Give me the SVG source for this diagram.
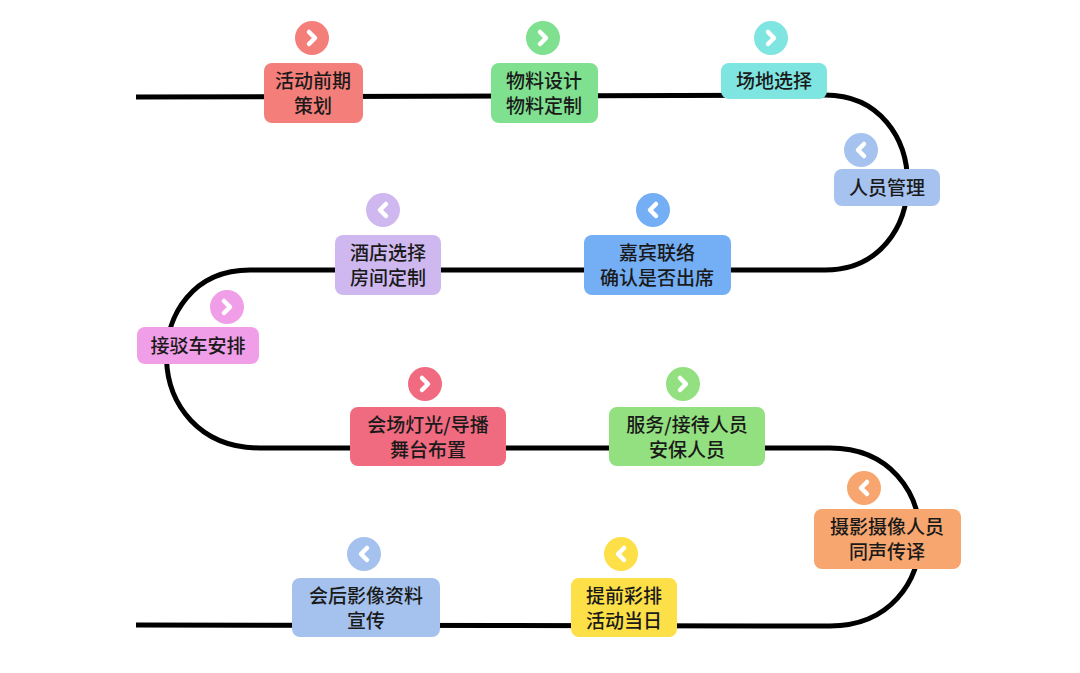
<svg xmlns="http://www.w3.org/2000/svg" width="1080" height="673" viewBox="0 0 1080 673">
<defs>
<style>
.t{font-family:"Noto Sans CJK SC","Noto Sans",sans-serif;font-size:19px;font-weight:500;fill:#1a1a1a;text-anchor:middle}
.ch{fill:none;stroke:#fff;stroke-width:4.5;stroke-linecap:round;stroke-linejoin:round}
</style>
<path id="r" class="ch" d="M-3,-6 L3,0 L-3,6"/>
<path id="l" class="ch" d="M3,-6 L-3,0 L3,6"/>
</defs>
<rect width="1080" height="673" fill="#fff"/>
<g id="connectors">
<path d="M136,97 L825,95 C935,95 935,270 825,270 L250,270 C137,270 137,448 260,448 L830,448 C950,448 950,626 830,626 L136,625" fill="none" stroke="#000" stroke-width="5"/>
</g>
<g id="n1"><circle cx="312" cy="38" r="17" fill="#f47f7a"/><use href="#r" x="312" y="38"/><rect x="264" y="63" width="99" height="60" rx="8" fill="#f47f7a"/><text class="t" x="313" y="88">活动前期</text><text class="t" x="313" y="113">策划</text></g>
<g id="n2"><circle cx="543" cy="38" r="17" fill="#7fe08f"/><use href="#r" x="543" y="38"/><rect x="491" y="63" width="107" height="60" rx="8" fill="#7fe08f"/><text class="t" x="544" y="88">物料设计</text><text class="t" x="544" y="113">物料定制</text></g>
<g id="n3"><circle cx="771" cy="38" r="17" fill="#7fe5e0"/><use href="#r" x="771" y="38"/><rect x="721" y="63" width="106" height="36" rx="8" fill="#7fe5e0"/><text class="t" x="774" y="88">场地选择</text></g>
<g id="n4"><circle cx="861" cy="150" r="17" fill="#a6c3ef"/><use href="#l" x="861" y="150"/><rect x="834" y="169" width="106" height="37" rx="8" fill="#a6c3ef"/><text class="t" x="887" y="195">人员管理</text></g>
<g id="n5"><circle cx="653" cy="210" r="17" fill="#74aef5"/><use href="#l" x="653" y="210"/><rect x="584" y="235" width="147" height="60" rx="8" fill="#74aef5"/><text class="t" x="657" y="260">嘉宾联络</text><text class="t" x="657" y="285">确认是否出席</text></g>
<g id="n6"><circle cx="383" cy="210" r="17" fill="#cfb8ef"/><use href="#l" x="383" y="210"/><rect x="335" y="235" width="106" height="60" rx="8" fill="#cfb8ef"/><text class="t" x="388" y="260">酒店选择</text><text class="t" x="388" y="285">房间定制</text></g>
<g id="n7"><circle cx="227" cy="307" r="17" fill="#f19ee8"/><use href="#r" x="227" y="307"/><rect x="137" y="327" width="122" height="37" rx="8" fill="#f19ee8"/><text class="t" x="198" y="353">接驳车安排</text></g>
<g id="n8"><circle cx="425" cy="384" r="17" fill="#f06a80"/><use href="#r" x="425" y="384"/><rect x="350" y="407" width="156" height="59" rx="8" fill="#f06a80"/><text class="t" x="428" y="432">会场灯光/导播</text><text class="t" x="428" y="457">舞台布置</text></g>
<g id="n9"><circle cx="683" cy="384" r="17" fill="#92e07f"/><use href="#r" x="683" y="384"/><rect x="609" y="407" width="156" height="59" rx="8" fill="#92e07f"/><text class="t" x="687" y="432">服务/接待人员</text><text class="t" x="687" y="457">安保人员</text></g>
<g id="n10"><circle cx="864" cy="488" r="17" fill="#f7a66f"/><use href="#l" x="864" y="488"/><rect x="814" y="509" width="147" height="60" rx="8" fill="#f7a66f"/><text class="t" x="887" y="534">摄影摄像人员</text><text class="t" x="887" y="559">同声传译</text></g>
<g id="n11"><circle cx="621" cy="554" r="17" fill="#fde047"/><use href="#l" x="621" y="554"/><rect x="571" y="578" width="106" height="59" rx="8" fill="#fde047"/><text class="t" x="624" y="603">提前彩排</text><text class="t" x="624" y="628">活动当日</text></g>
<g id="n12"><circle cx="364" cy="554" r="17" fill="#a5c2ef"/><use href="#l" x="364" y="554"/><rect x="292" y="578" width="148" height="59" rx="8" fill="#a5c2ef"/><text class="t" x="366" y="603">会后影像资料</text><text class="t" x="366" y="628">宣传</text></g>
</svg>
